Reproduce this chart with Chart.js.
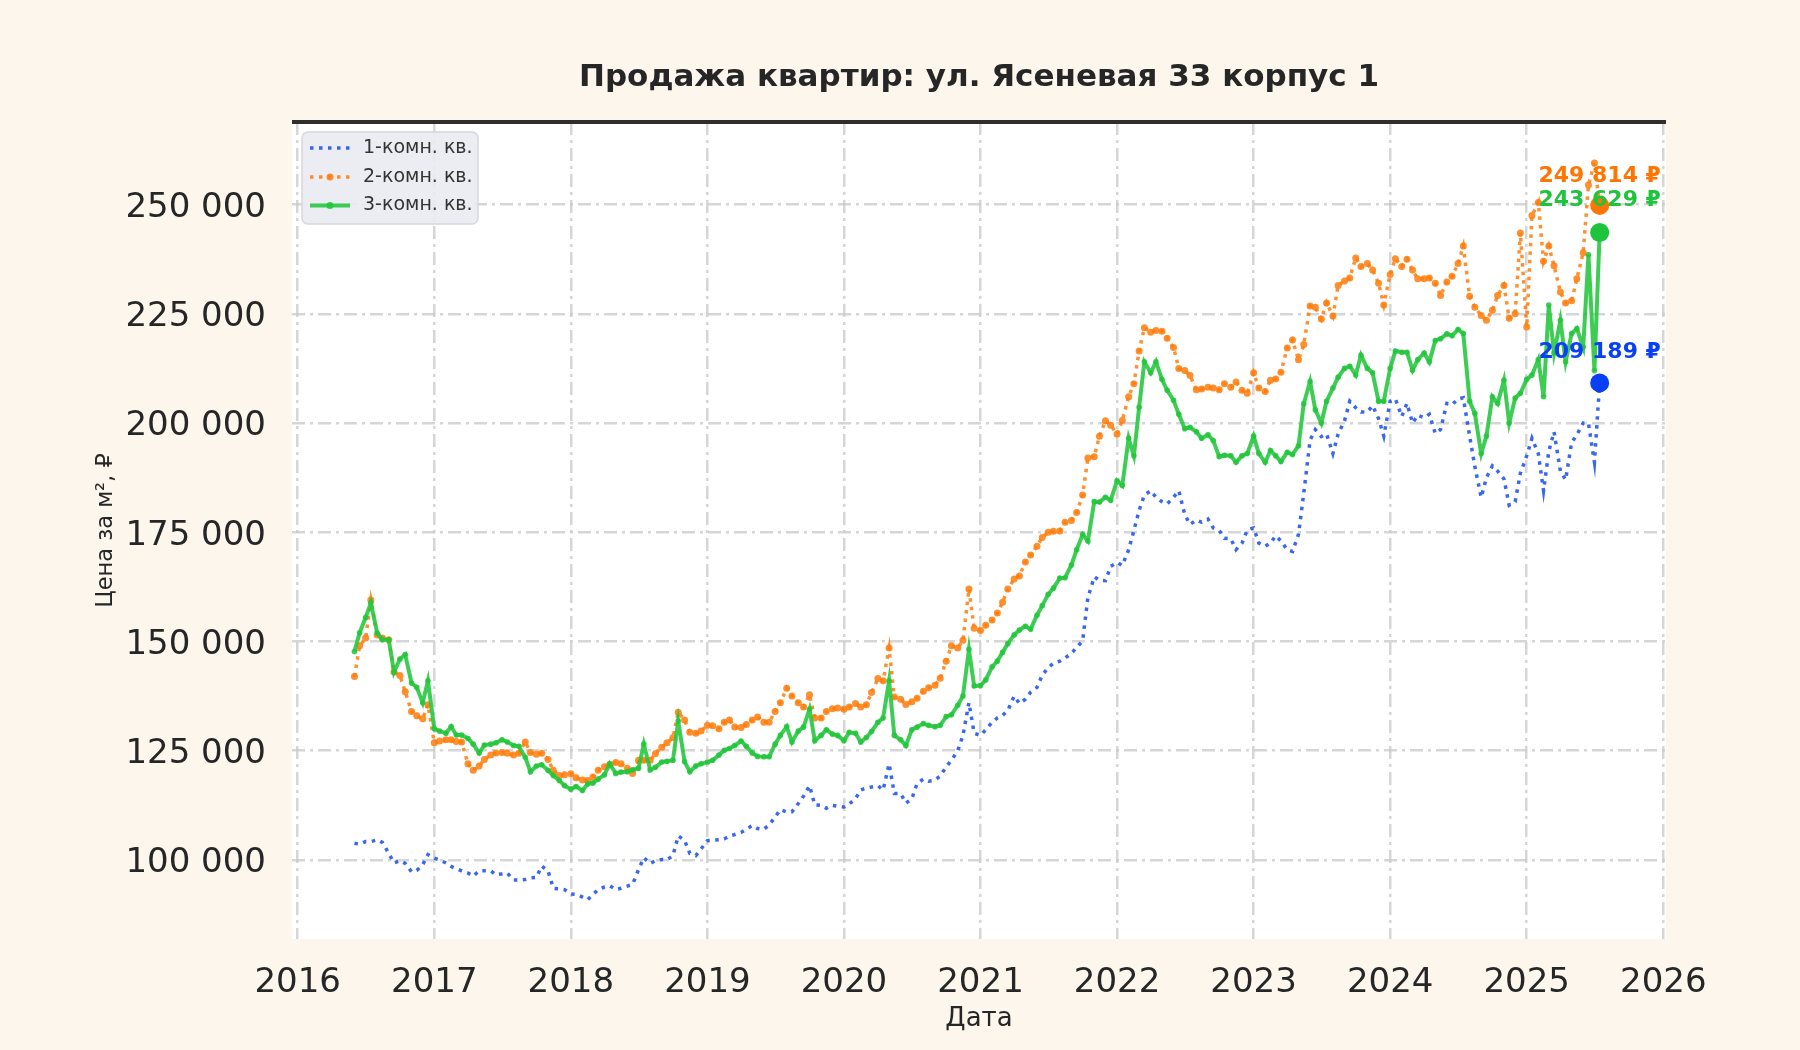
<!DOCTYPE html>
<html lang="ru">
<head>
<meta charset="utf-8">
<title>Продажа квартир: ул. Ясеневая 33 корпус 1</title>
<script src="https://cdn.jsdelivr.net/npm/chart.js@4.4.1/dist/chart.umd.min.js"></script>
<style>
  html, body { margin: 0; padding: 0; background: #fdf6ec; }
  #marco { width: 1800px; height: 1050px; position: relative; }
</style>
</head>
<body>
<div id="marco"><canvas id="grafico"></canvas></div>
<script>
// даты наблюдений (1-е и 15-е число месяца)
const fechas = [
  "2016-06-01","2016-06-15","2016-07-01","2016-07-15","2016-08-01","2016-08-15","2016-09-01","2016-09-15","2016-10-01","2016-10-15","2016-11-01","2016-11-15","2016-12-01","2016-12-15",
  "2017-01-01","2017-01-15","2017-02-01","2017-02-15","2017-03-01","2017-03-15","2017-04-01","2017-04-15","2017-05-01","2017-05-15","2017-06-01","2017-06-15","2017-07-01","2017-07-15","2017-08-01","2017-08-15","2017-09-01","2017-09-15","2017-10-01","2017-10-15","2017-11-01","2017-11-15","2017-12-01","2017-12-15",
  "2018-01-01","2018-01-15","2018-02-01","2018-02-15","2018-03-01","2018-03-15","2018-04-01","2018-04-15","2018-05-01","2018-05-15","2018-06-01","2018-06-15","2018-07-01","2018-07-15","2018-08-01","2018-08-15","2018-09-01","2018-09-15","2018-10-01","2018-10-15","2018-11-01","2018-11-15","2018-12-01","2018-12-15",
  "2019-01-01","2019-01-15","2019-02-01","2019-02-15","2019-03-01","2019-03-15","2019-04-01","2019-04-15","2019-05-01","2019-05-15","2019-06-01","2019-06-15","2019-07-01","2019-07-15","2019-08-01","2019-08-15","2019-09-01","2019-09-15","2019-10-01","2019-10-15","2019-11-01","2019-11-15","2019-12-01","2019-12-15",
  "2020-01-01","2020-01-15","2020-02-01","2020-02-15","2020-03-01","2020-03-15","2020-04-01","2020-04-15","2020-05-01","2020-05-15","2020-06-01","2020-06-15","2020-07-01","2020-07-15","2020-08-01","2020-08-15","2020-09-01","2020-09-15","2020-10-01","2020-10-15","2020-11-01","2020-11-15","2020-12-01","2020-12-15",
  "2021-01-01","2021-01-15","2021-02-01","2021-02-15","2021-03-01","2021-03-15","2021-04-01","2021-04-15","2021-05-01","2021-05-15","2021-06-01","2021-06-15","2021-07-01","2021-07-15","2021-08-01","2021-08-15","2021-09-01","2021-09-15","2021-10-01","2021-10-15","2021-11-01","2021-11-15","2021-12-01","2021-12-15",
  "2022-01-01","2022-01-15","2022-02-01","2022-02-15","2022-03-01","2022-03-15","2022-04-01","2022-04-15","2022-05-01","2022-05-15","2022-06-01","2022-06-15","2022-07-01","2022-07-15","2022-08-01","2022-08-15","2022-09-01","2022-09-15","2022-10-01","2022-10-15","2022-11-01","2022-11-15","2022-12-01","2022-12-15",
  "2023-01-01","2023-01-15","2023-02-01","2023-02-15","2023-03-01","2023-03-15","2023-04-01","2023-04-15","2023-05-01","2023-05-15","2023-06-01","2023-06-15","2023-07-01","2023-07-15","2023-08-01","2023-08-15","2023-09-01","2023-09-15","2023-10-01","2023-10-15","2023-11-01","2023-11-15","2023-12-01","2023-12-15",
  "2024-01-01","2024-01-15","2024-02-01","2024-02-15","2024-03-01","2024-03-15","2024-04-01","2024-04-15","2024-05-01","2024-05-15","2024-06-01","2024-06-15","2024-07-01","2024-07-15","2024-08-01","2024-08-15","2024-09-01","2024-09-15","2024-10-01","2024-10-15","2024-11-01","2024-11-15","2024-12-01","2024-12-15",
  "2025-01-01","2025-01-15","2025-02-01","2025-02-15","2025-03-01","2025-03-15","2025-04-01","2025-04-15","2025-05-01","2025-05-15","2025-06-01","2025-06-15","2025-07-01","2025-07-15"
];

// цена за м², тыс. ₽
const kv1 = [
  103.8, 103.6, 104.2, 104.2, 104.6, 104.0, 101.5, 99.3, 99.8, 99.2, 97.3, 97.6, 98.9, 101.2,
  100.4, 100.0, 99.3, 98.5, 98.0, 97.5, 97.0, 96.3, 97.5, 97.5, 97.5, 96.6, 96.8, 97.0, 95.4, 95.4, 95.5, 95.9, 96.0, 98.6, 97.5, 93.5, 93.4, 93.2,
  92.2, 92.1, 91.5, 90.9, 92.1, 93.2, 93.8, 94.1, 93.2, 93.5, 94.0, 94.4, 97.8, 100.5, 99.2, 99.8, 100.1, 100.0, 101.0, 105.5, 104.5, 101.5, 101.0, 102.5,
  104.4, 104.5, 104.6, 104.8, 105.5, 105.8, 106.3, 107.0, 107.9, 107.2, 107.0, 108.0, 109.8, 111.5, 111.0, 111.0, 112.9, 114.6, 117.0, 112.6, 112.5, 111.8, 112.5, 112.3,
  112.1, 112.8, 114.0, 116.0, 116.5, 116.7, 117.0, 116.0, 122.0, 115.2, 115.2, 113.0, 114.0, 117.5, 118.5, 118.0, 118.3, 119.2, 121.3, 122.8, 125.0, 128.5, 136.0, 129.0,
  128.5, 129.8, 131.5, 132.5, 133.1, 134.2, 137.5, 135.8, 136.8, 138.4, 139.5, 142.3, 144.0, 145.0, 145.5, 146.2, 147.3, 148.6, 150.2, 160.0, 164.8, 164.0, 163.9, 167.2,
  168.1, 167.4, 171.0, 175.4, 180.0, 183.5, 184.5, 183.0, 182.0, 181.5, 183.0, 184.5, 179.0, 176.8, 177.8, 177.3, 178.0, 176.0, 175.4, 173.6, 173.5, 171.0, 172.5, 175.5,
  176.0, 172.5, 171.8, 172.5, 174.2, 173.0, 171.0, 170.6, 174.5, 183.9, 196.1, 198.5, 196.9, 197.5, 193.0, 197.5, 200.5, 205.0, 203.5, 202.5, 202.5, 204.0, 201.0, 197.0,
  205.0, 205.5, 201.5, 204.5, 200.0, 201.8, 201.2, 202.0, 197.6, 198.5, 204.5, 204.2, 205.5, 205.8, 197.0, 190.0, 183.0, 187.5, 190.2, 189.0, 187.2, 181.2, 182.0, 188.5,
  192.5, 196.5, 193.0, 184.5, 193.5, 198.0, 189.0, 187.0, 195.5, 197.3, 200.0, 200.0, 191.0, 209.189
];
const kv2 = [
  142.0, 149.0, 150.8, 159.5, 151.5, 150.8, 150.4, 143.0, 142.2, 138.5, 134.0, 133.0, 132.3, 135.5,
  126.8, 127.2, 127.5, 127.5, 127.1, 127.0, 122.0, 120.5, 121.5, 123.0, 124.0, 124.5, 124.6, 124.4, 124.0, 124.4, 127.0, 124.6, 124.2, 124.4, 123.0, 120.5, 119.3, 119.5,
  119.7, 118.8, 118.3, 118.2, 119.0, 120.5, 121.3, 121.8, 122.3, 122.0, 121.0, 119.8, 122.8, 122.8, 122.8, 124.3, 125.8, 126.8, 128.0, 133.8, 132.0, 129.2, 129.0, 129.5,
  130.8, 130.7, 130.0, 131.5, 132.0, 130.4, 130.3, 131.0, 132.0, 132.7, 131.5, 131.5, 134.0, 136.0, 139.3, 137.5, 136.0, 135.0, 137.8, 132.5, 132.5, 134.0, 134.6, 134.8,
  134.5, 135.0, 135.8, 135.0, 135.5, 138.3, 141.5, 141.0, 148.5, 137.3, 136.8, 135.6, 136.2, 137.0, 138.6, 139.4, 140.0, 141.6, 145.5, 149.0, 148.5, 150.3, 162.0, 153.0,
  152.5, 153.7, 154.9, 156.5, 159.0, 162.0, 164.3, 165.0, 168.2, 169.8, 171.8, 173.8, 175.0, 175.2, 175.3, 177.3, 177.7, 179.5, 183.5, 192.0, 192.3, 197.0, 200.5, 199.5,
  197.5, 200.6, 206.0, 209.0, 216.5, 221.8, 220.8, 221.2, 221.0, 219.4, 217.3, 212.5, 212.0, 210.9, 207.6, 207.8, 208.2, 208.0, 207.6, 209.0, 208.2, 209.4, 207.5, 206.8,
  211.5, 208.0, 207.2, 209.8, 210.1, 211.6, 217.2, 219.0, 214.5, 218.0, 226.8, 226.5, 223.8, 227.5, 224.5, 231.5, 232.5, 233.2, 237.8, 235.8, 236.5, 235.0, 232.0, 227.0,
  234.0, 237.6, 235.8, 237.5, 235.0, 233.0, 233.0, 233.2, 232.0, 229.2, 232.3, 233.6, 236.5, 240.5, 229.0, 226.5, 224.6, 223.5, 225.8, 229.2, 231.5, 224.0, 225.0, 243.5,
  222.0, 247.5, 250.5, 237.0, 240.5, 236.0, 230.0, 227.5, 228.0, 233.0, 239.0, 254.5, 259.5, 249.814
];
const kv3 = [
  147.7, 152.0, 155.5, 158.8, 151.9, 150.4, 150.4, 143.0, 146.0, 147.0, 140.5, 139.5, 136.0, 141.0,
  130.0, 129.5, 129.0, 130.5, 128.6, 128.6, 127.8, 126.5, 124.5, 126.3, 126.5, 126.8, 127.5, 127.0, 126.2, 126.0, 123.5, 120.2, 121.5, 121.8, 120.5, 119.3, 118.2, 117.0,
  116.2, 116.8, 115.9, 117.4, 117.6, 118.5, 119.5, 122.0, 119.8, 120.1, 120.2, 120.6, 121.0, 126.5, 120.6, 121.2, 122.4, 122.6, 122.8, 131.8, 122.5, 120.2, 121.5, 122.0,
  122.4, 122.8, 124.0, 125.1, 125.5, 126.2, 127.2, 126.0, 124.5, 123.7, 123.6, 123.6, 126.5, 128.5, 130.5, 127.0, 129.5, 130.4, 134.5, 127.3, 128.5, 129.8, 128.8, 128.5,
  127.3, 129.2, 129.0, 127.0, 128.0, 129.4, 131.5, 132.5, 141.0, 128.5, 127.5, 126.2, 129.8, 130.4, 131.2, 130.8, 130.5, 130.8, 132.8, 133.2, 135.4, 137.5, 148.2, 139.8,
  139.9, 141.2, 144.2, 145.5, 147.5, 149.5, 151.5, 152.6, 153.5, 152.8, 156.0, 158.2, 160.8, 162.2, 164.5, 164.6, 167.5, 171.0, 174.5, 173.0, 182.0, 181.9, 183.0, 182.3,
  186.8, 185.7, 196.5, 192.5, 203.6, 214.0, 211.5, 214.0, 210.0, 207.5, 205.2, 202.0, 198.7, 199.0, 198.0, 196.5, 197.3, 196.0, 192.3, 192.6, 192.5, 191.0, 192.5, 193.0,
  197.0, 193.0, 191.0, 193.7, 192.5, 191.2, 193.3, 192.8, 194.8, 204.4, 209.5, 203.0, 200.0, 205.0, 208.0, 210.5, 212.5, 213.0, 211.0, 215.5, 212.5, 211.5, 205.0, 205.0,
  212.5, 216.5, 216.2, 216.2, 212.1, 214.5, 216.0, 214.0, 218.9, 219.3, 220.4, 220.0, 221.4, 220.5, 205.0, 202.2, 193.0, 197.0, 206.0, 204.5, 209.8, 200.0, 205.7, 206.8,
  210.0, 211.0, 214.5, 206.0, 227.0, 216.0, 223.5, 214.0, 220.5, 221.6, 217.4, 238.5, 212.0, 243.629
];

const nombres = ["1-комн. кв.", "2-комн. кв.", "3-комн. кв."];
const ticksX = [2016, 2017, 2018, 2019, 2020, 2021, 2022, 2023, 2024, 2025, 2026];
const ticksY = [100, 125, 150, 175, 200, 225, 250];

const colores = {
  kv1: "rgba(35, 88, 235, 0.9)",
  kv2: "rgba(255, 125, 10, 0.85)",
  kv3: "rgba(35, 198, 60, 0.88)"
};
const coloresFin = ["#0a40f5", "#ff7500", "#1ec43c"];
const fuente = "'DejaVu Sans', 'Noto Sans', sans-serif";

function aAnio(fecha) {
  const [a, m, d] = fecha.split("-").map(Number);
  const inicio = Date.UTC(a, 0, 1);
  const fin = Date.UTC(a + 1, 0, 1);
  return a + (Date.UTC(a, m - 1, d) - inicio) / (fin - inicio);
}

function puntos(serie) {
  return serie.map((v, i) => ({ x: aAnio(fechas[i]), y: v }));
}

function ultimo(serie) {
  const i = serie.length - 1;
  return [{ x: aAnio(fechas[i]), y: serie[i] }];
}

function formatoRublos(valor) {
  const n = Math.round(valor * 1000);
  return String(n).replace(/\B(?=(\d{3})+(?!\d))/g, " ") + " ₽";
}

const fondoArea = {
  id: "fondoArea",
  beforeDraw(chart) {
    const { ctx, chartArea: a } = chart;
    ctx.save();
    ctx.fillStyle = "#ffffff";
    ctx.fillRect(a.left, a.top, a.right - a.left, a.bottom - a.top);
    ctx.restore();
  }
};

const decoracion = {
  id: "decoracion",
  afterDatasetsDraw(chart) {
    const { ctx, chartArea: a } = chart;
    ctx.save();

    // верхняя граница
    ctx.strokeStyle = "#2e2e2e";
    ctx.lineWidth = 4;
    ctx.beginPath();
    ctx.moveTo(a.left, a.top);
    ctx.lineTo(a.right, a.top);
    ctx.stroke();

    // заголовок
    ctx.fillStyle = "#262626";
    ctx.font = `bold 31px ${fuente}`;
    ctx.textAlign = "center";
    ctx.textBaseline = "middle";
    ctx.fillText("Продажа квартир: ул. Ясеневая 33 корпус 1", (a.left + a.right) / 2, 78);

    // подписи последних значений
    const series = [kv1, kv2, kv3];
    const desplaz = [31, 29.5, 32.5];
    ctx.font = `bold 22px ${fuente}`;
    [3, 4, 5].forEach((idx, k) => {
      const p = chart.getDatasetMeta(idx).data[0];
      if (!p) return;
      const serie = series[k];
      ctx.fillStyle = coloresFin[k];
      ctx.fillText(formatoRublos(serie[serie.length - 1]), p.x, p.y - desplaz[k]);
    });

    // легенда
    const x0 = a.left + 10;
    const y0 = a.top + 10;
    ctx.beginPath();
    ctx.roundRect(x0, y0, 176, 92, 6);
    ctx.fillStyle = "rgba(234, 234, 242, 0.9)";
    ctx.fill();
    ctx.strokeStyle = "rgba(214, 214, 224, 1)";
    ctx.lineWidth = 1.5;
    ctx.stroke();

    const filas = [26, 55, 83.5];
    const trazos = [colores.kv1, colores.kv2, colores.kv3];
    filas.forEach((dy, k) => {
      const y = y0 + dy - 10;
      ctx.strokeStyle = trazos[k];
      ctx.lineWidth = k === 2 ? 4 : 3.5;
      ctx.setLineDash(k === 2 ? [] : [3.5, 5.5]);
      ctx.beginPath();
      ctx.moveTo(x0 + 8, y);
      ctx.lineTo(x0 + 48, y);
      ctx.stroke();
      ctx.setLineDash([]);
      if (k > 0) {
        ctx.fillStyle = trazos[k];
        ctx.beginPath();
        ctx.arc(x0 + 28, y, 3.5, 0, Math.PI * 2);
        ctx.fill();
      }
      ctx.fillStyle = "#333333";
      ctx.font = `19px ${fuente}`;
      ctx.textAlign = "left";
      ctx.fillText(nombres[k], x0 + 61, y);
    });

    ctx.restore();
  }
};

function crearGrafico() {
  const canvas = document.getElementById("grafico");

  new Chart(canvas, {
    type: "line",
    data: {
      datasets: [
        {
          label: nombres[0],
          data: puntos(kv1),
          borderColor: colores.kv1,
          borderWidth: 3.5,
          borderDash: [3.5, 5.5],
          pointRadius: 0,
          order: 3
        },
        {
          label: nombres[1],
          data: puntos(kv2),
          borderColor: colores.kv2,
          borderWidth: 3.5,
          borderDash: [3.5, 5],
          pointRadius: 3.5,
          pointBorderWidth: 0,
          pointBackgroundColor: colores.kv2,
          order: 2
        },
        {
          label: nombres[2],
          data: puntos(kv3),
          borderColor: colores.kv3,
          borderWidth: 4,
          pointRadius: 2.8,
          pointBorderWidth: 0,
          pointBackgroundColor: colores.kv3,
          order: 1
        },
        { data: ultimo(kv1), showLine: false, pointRadius: 9.5, pointBorderWidth: 0, pointBackgroundColor: coloresFin[0], order: 0 },
        { data: ultimo(kv2), showLine: false, pointRadius: 9.5, pointBorderWidth: 0, pointBackgroundColor: coloresFin[1], order: 0 },
        { data: ultimo(kv3), showLine: false, pointRadius: 9.5, pointBorderWidth: 0, pointBackgroundColor: coloresFin[2], order: 0 }
      ]
    },
    options: {
      responsive: true,
      maintainAspectRatio: false,
      animation: false,
      devicePixelRatio: 1,
      layout: { padding: { top: 122, right: 134, left: 0, bottom: 0 } },
      elements: { line: { tension: 0, borderCapStyle: "butt" } },
      plugins: {
        legend: { display: false },
        tooltip: { enabled: false }
      },
      scales: {
        x: {
          type: "linear",
          min: 2015.958,
          max: 2026.02,
          afterBuildTicks: axis => { axis.ticks = ticksX.map(v => ({ value: v })); },
          afterFit: axis => { axis.height = 111; },
          ticks: {
            padding: 24,
            color: "#262626",
            font: { family: fuente, size: 34 },
            callback: value => `${value}`
          },
          grid: { color: "rgba(200, 200, 200, 0.75)", lineWidth: 2.5, drawTicks: false },
          border: { display: false, dash: [13, 5, 3, 5] },
          title: {
            display: true,
            text: "Дата",
            color: "#262626",
            font: { family: fuente, size: 26 },
            padding: { top: 0, bottom: 15 }
          }
        },
        y: {
          type: "linear",
          min: 81.9,
          max: 268.9,
          afterBuildTicks: axis => { axis.ticks = ticksY.map(v => ({ value: v })); },
          afterFit: axis => { axis.width = 292; },
          ticks: {
            padding: 26,
            labelOffset: 3.5,
            color: "#262626",
            font: { family: fuente, size: 34 },
            callback: value => `${value} 000`
          },
          grid: { color: "rgba(200, 200, 200, 0.75)", lineWidth: 2.5, drawTicks: false },
          border: { display: false, dash: [13, 5, 3, 5] },
          title: {
            display: true,
            text: "Цена за м², ₽",
            color: "#262626",
            font: { family: fuente, size: 22.5 },
            padding: { top: 93, bottom: 0 }
          }
        }
      }
    },
    plugins: [fondoArea, decoracion]
  });
}

document.addEventListener("DOMContentLoaded", crearGrafico);
</script>
</body>
</html>
